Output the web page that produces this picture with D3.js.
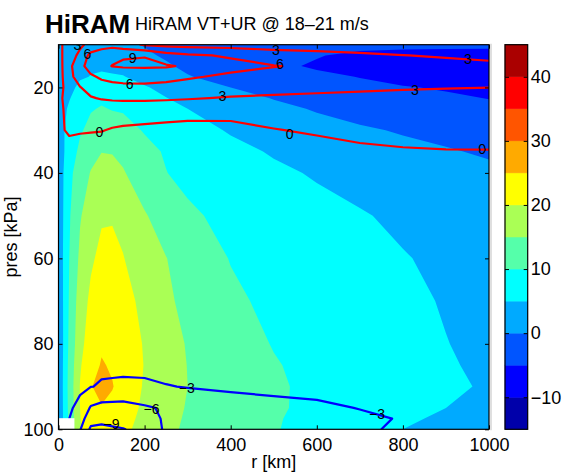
<!DOCTYPE html>
<html><head><meta charset="utf-8">
<script src="https://cdn.jsdelivr.net/npm/d3@7"></script>
<style>
body{margin:0;background:#fff;}
text{font-family:"Liberation Sans",Arial,Helvetica,sans-serif;}
</style>
</head><body>
<svg id="chart" width="568" height="476"></svg>
<script>
// ---------------- DATA ----------------
const radii = [0, 25, 50, 75, 100, 125, 150, 200, 250, 300, 400, 500, 600, 700, 800, 900, 1000]; // km
const pressures = [10, 12.5, 15, 17.5, 20, 22.5, 25, 30, 35, 40, 50, 60, 70, 80, 85, 90, 95, 97.5, 100]; // kPa

// filled field (VT+UR), one row per pressure level
const fillP10  = [1, 2.5, 3, 3, 2.5, 2, 1.2, -0.3, -1.5, -2.5, -3.5, -3.8, -3.7, -3.8, -3.8, -3.8, -3.8];
const fillP12  = [1.5, 3, 3.5, 3.5, 3, 2.5, 2, 0.8, -0.6, -1.8, -3, -4.2, -4.8, -5.8, -6.5, -6.8, -7];
const fillP15  = [2, 4, 4.5, 4.8, 4.8, 4.3, 3.8, 2.3, 0.6, -1, -3, -4.3, -5.4, -6.5, -7.2, -7.6, -7.8];
const fillP17  = [2.5, 4.3, 4.8, 5.05, 5.2, 5.3, 5.2, 3.5, 1.8, 0.3, -2, -3.3, -4.3, -5.1, -6, -6.5, -6.8];
const fillP20  = [2.8, 4.5, 5.4, 6.8, 7.5, 7.3, 6.8, 5.4, 3.8, 2.2, 0, -1.8, -3.2, -4.2, -4.8, -5.3, -5.6];
const fillP22  = [3, 4.8, 6.5, 8.5, 9.3, 9.2, 8.6, 6.8, 5.1, 3.6, 1.6, -0.2, -1.8, -3, -3.8, -4.5, -5.1];
const fillP25  = [3.2, 5.5, 7.8, 9.7, 10.3, 9.8, 9.6, 8, 6.4, 5, 2.8, 1.2, -0.4, -1.8, -2.8, -3.6, -4.2];
const fillP30  = [2.5, 7, 9.5, 11.2, 12, 12, 11.5, 9.7, 8.2, 6.8, 4.6, 3, 1.7, 0.6, -0.4, -1.4, -2.2];
const fillP35  = [2, 7.5, 11, 13.7, 14.9, 14.8, 13.8, 11.2, 9.6, 8.3, 6.2, 4.6, 3.2, 2.1, 1.2, 0.4, -0.6];
const fillP40  = [2, 8.5, 13, 15.2, 16.5, 16.3, 15.4, 12.2, 10.1, 8.8, 7, 5.8, 4.6, 3.6, 2.7, 1.8, 1];
const fillP50  = [1.5, 9.5, 14.6, 17.5, 19.5, 19.6, 18.6, 15.4, 12.8, 10.8, 8.7, 7.4, 6.3, 5.3, 4.3, 3.5, 2.8];
const fillP60  = [1.5, 10, 16, 19.3, 21.2, 21.3, 20.2, 17, 15.1, 13, 9.8, 8.3, 7.2, 6.2, 5.2, 4.3, 3.5];
const fillP70  = [1, 10.5, 17.5, 21, 23, 23.2, 22, 18.5, 16, 13.5, 10.9, 8.9, 7.7, 6.8, 5.9, 4.7, 3.8];
const fillP80  = [0.5, 11, 18.5, 22.5, 24.5, 24.3, 23, 19.6, 16.8, 14.7, 11.8, 9.8, 8.5, 7.5, 6.6, 5.1, 4];
const fillP85  = [0.5, 11.5, 19.5, 23.5, 25.3, 24.6, 23.5, 19.8, 17.2, 14.9, 12.3, 10.3, 8.8, 7.7, 6.8, 5.4, 4.2];
const fillP90  = [0.5, 11.8, 20.2, 24.7, 26.6, 25.2, 23.5, 19.5, 17, 15, 12.5, 10.6, 9, 7.8, 6.9, 5.8, 4.5];
const fillP95  = [0.5, 11.5, 20, 23.8, 24.7, 24, 22.6, 19, 16.6, 14.7, 12.3, 10.6, 8.9, 7.4, 6.2, 5, 3.8];
const fillP97  = [0.5, 11.2, 19.8, 23.2, 23.9, 23.3, 21.9, 18.6, 16.3, 14.5, 12.1, 10.4, 8.6, 6.9, 5.6, 4.4, 3.4];
const fillP100 = [0.5, 11, 19.5, 22.5, 23, 22.5, 21.2, 18.2, 16, 14.3, 12, 10.3, 8.4, 6.5, 5, 3.9, 3];

// contoured line field (radial flow), one row per pressure level
const lineP10  = [-1.1, 2, 2.7, 3.5, 4.5, 5, 4.2, 2.7, 2.2, 2, 1.8, 1.6, 1.5, 1.4, 1.3, 1.2, 1.1];
const lineP12  = [-1.2, 2.2, 3.4, 7, 8, 8.5, 8.8, 8.9, 7.2, 6.4, 5.7, 4.5, 4, 3.5, 3.05, 2.7, 2.4];
const lineP15  = [-1.3, 2.3, 5, 7.5, 8.5, 9.05, 9.3, 9.4, 9.3, 8.6, 6.8, 6.1, 5.6, 5, 4.4, 4, 3.6];
const lineP17  = [-1.4, 2.2, 4.3, 5.5, 6.5, 6.9, 7.1, 7.1, 6.8, 6.3, 5.5, 5.1, 4.8, 4.6, 4.4, 4.2, 4.1];
const lineP20  = [-1.5, 1.8, 2.9, 4, 4.7, 5.1, 5.3, 5.4, 5.2, 4.9, 4.3, 3.9, 3.6, 3.4, 3.2, 3.1, 3.02];
const lineP22  = [-1, 1.8, 2.4, 2.8, 3.2, 3.4, 3.5, 3.5, 3.4, 3.2, 2.8, 2.6, 2.5, 2.4, 2.3, 2.2, 2.1];
const lineP25  = [-1, 1.2, 1.5, 1.6, 1.6, 1.6, 1.6, 1.5, 1.4, 1.3, 1.2, 1.2, 1.2, 1.2, 1.2, 1.2, 1.2];
const lineP30  = [-0.4, 0.3, 0.2, 0.15, 0.1, -0.2, -0.4, -0.6, -0.8, -1.0, -0.9, -0.1, 0.3, 0.6, 0.8, 0.9, 1];
const lineP35  = [-1, -0.8, -1, -1.2, -1.3, -1.4, -1.5, -1.6, -1.6, -1.6, -1.4, -1.2, -0.9, -0.4, -0.2, -0.1, -0.1];
const lineP40  = [-1.2, -1.2, -1.4, -1.6, -1.7, -1.8, -1.8, -1.8, -1.8, -1.8, -1.7, -1.5, -1.3, -1.1, -0.9, -0.8, -0.7];
const lineP50  = [-1.3, -1.4, -1.6, -1.8, -1.9, -1.9, -1.9, -1.9, -1.9, -1.9, -1.8, -1.7, -1.6, -1.4, -1.3, -1.2, -1.1];
const lineP60  = [-1.3, -1.5, -1.7, -1.9, -2, -2, -2, -2, -2, -2, -1.9, -1.8, -1.7, -1.6, -1.5, -1.4, -1.3];
const lineP70  = [-1.4, -1.6, -1.9, -2.1, -2.2, -2.2, -2.2, -2.2, -2.1, -2.1, -2, -1.9, -1.8, -1.7, -1.6, -1.5, -1.4];
const lineP80  = [-1.5, -1.7, -2.1, -2.4, -2.5, -2.5, -2.5, -2.5, -2.4, -2.3, -2.2, -2.1, -2, -1.9, -1.8, -1.7, -1.6];
const lineP85  = [-1.5, -1.8, -2.2, -2.5, -2.7, -2.7, -2.7, -2.7, -2.6, -2.5, -2.4, -2.3, -2.2, -2.1, -2, -1.9, -1.8];
const lineP90  = [-1.8, -2.2, -2.6, -2.95, -3.15, -3.2, -3.25, -3.2, -3.05, -2.95, -2.75, -2.6, -2.5, -2.4, -2.2, -2, -1.9];
const lineP95  = [-2.2, -2.7, -3.6, -6.3, -7.0, -7.1, -7.2, -6.4, -5.6, -3.8, -3.7, -3.5, -3.3, -2.95, -2.6, -2.2, -2];
const lineP97  = [-2.35, -3.0, -4.7, -7.8, -8.3, -8.2, -8.1, -7.3, -5.55, -4.0, -3.95, -3.75, -3.55, -3.3, -2.9, -2.25, -2.05];
const lineP100 = [-2.5, -3.3, -5.8, -9.5, -9.6, -9.3, -9.1, -8.2, -5.5, -4.2, -4.2, -4, -3.8, -3.2, -2.8, -2.3, -2.1];

const fillLevels = [-15, -10, -5, 0, 5, 10, 15, 20, 25, 30, 35, 40];
const fillColors = ["#0000AA", "#0000FF", "#0055FF", "#00AAFF", "#00FFFF", "#55FFAA",
                    "#AAFF55", "#FFFF00", "#FFAA00", "#FF5500", "#FF0000", "#AA0000"];
const colorbarRange = [-15, 45];
const lineLevels = [-9, -6, -3, 0, 3, 6, 9];

const xTicks = [0, 200, 400, 600, 800, 1000];
const yTicks = [20, 40, 60, 80, 100];
const cbTicks = [-10, 0, 10, 20, 30, 40];

// contour labels: [r (km), p (kPa), text]
const contourLabels = [
  [44, 10.1, "3"], [67, 12.2, "6"], [172, 13.1, "9"], [165, 19.2, "6"], [381, 21.9, "3"],
  [95, 30.5, "0"], [505, 11.2, "3"], [514, 14.5, "6"], [537, 31, "0"], [828, 20.5, "3"],
  [951, 13.3, "3"], [984, 34.5, "0"],
  [298, 90.3, "\u22123"], [216, 95.2, "\u22126"], [123, 98.8, "\u22129"], [740, 96.4, "\u22123"]
];
// missing-data corner (white)
const maskR = [0, 37];
const maskP = [97.4, 100];

const titleBold = "HiRAM";
const titleText = "HiRAM VT+UR @ 18\u201321 m/s";
const xLabel = "r [km]";
const yLabel = "pres [kPa]";

// ---------------- DRAWING ----------------
const fillGrid = [fillP10, fillP12, fillP15, fillP17, fillP20, fillP22, fillP25, fillP30, fillP35, fillP40,
                  fillP50, fillP60, fillP70, fillP80, fillP85, fillP90, fillP95, fillP97, fillP100].flat();
const lineGrid = [lineP10, lineP12, lineP15, lineP17, lineP20, lineP22, lineP25, lineP30, lineP35, lineP40,
                  lineP50, lineP60, lineP70, lineP80, lineP85, lineP90, lineP95, lineP97, lineP100].flat();

const nx = radii.length, ny = pressures.length;
const M = {l: 58.5, r: 489, t: 44.7, b: 429.3};
const x = d3.scaleLinear([0, 1000], [M.l, M.r]);
const y = d3.scaleLinear([10, 100], [M.t, M.b]);
const ix = d3.scaleLinear(d3.range(nx), radii);
const iy = d3.scaleLinear(d3.range(ny), pressures);

const svg = d3.select("#chart");
svg.append("defs").append("clipPath").attr("id", "plotclip")
  .append("rect").attr("x", M.l).attr("y", M.t).attr("width", M.r - M.l).attr("height", M.b - M.t);

const clamp = (v, a, b) => Math.max(a, Math.min(b, v));
// raw marching-squares point -> fractional grid index (values sampled at integer indices)
function toIndex(pt, values, thr) {
  const [cx, cy] = pt;
  let xi, yi;
  if (Number.isInteger(cx)) {
    if (cx <= 0) xi = 0;
    else if (cx >= nx) xi = nx - 1;
    else {
      const row = clamp(Math.floor(cy), 0, ny - 1);
      const v0 = values[row * nx + cx - 1], v1 = values[row * nx + cx];
      xi = cx - 1 + (thr - v0) / (v1 - v0);
    }
  } else xi = cx - 0.5;
  if (Number.isInteger(cy)) {
    if (cy <= 0) yi = 0;
    else if (cy >= ny) yi = ny - 1;
    else {
      const col = clamp(Math.floor(cx), 0, nx - 1);
      const v0 = values[(cy - 1) * nx + col], v1 = values[cy * nx + col];
      yi = cy - 1 + (thr - v0) / (v1 - v0);
    }
  } else yi = cy - 0.5;
  return [clamp(xi, 0, nx - 1), clamp(yi, 0, ny - 1)];
}
const toPx = (q) => x(ix(q[0])).toFixed(2) + "," + y(iy(q[1])).toFixed(2);

const plot = svg.append("g").attr("clip-path", "url(#plotclip)");

// filled contours
const fillContours = d3.contours().size([nx, ny]).smooth(false).thresholds(fillLevels)(fillGrid);
plot.append("g").selectAll("path").data(fillContours).join("path")
  .attr("fill", d => fillColors[fillLevels.indexOf(d.value)])
  .attr("fill-rule", "evenodd")
  .attr("stroke", "none")
  .attr("d", g => g.coordinates.map(poly => poly.map(ring =>
      ring.map((p, i) => (i ? "L" : "M") + toPx(toIndex(p, fillGrid, g.value))).join("") + "Z").join("")).join(""));

// line contours
const lineContours = d3.contours().size([nx, ny]).smooth(false).thresholds(lineLevels)(lineGrid);
function onEdge(a, b) {
  return (a[0] === 0 && b[0] === 0) || (a[0] === nx - 1 && b[0] === nx - 1) ||
         (a[1] === 0 && b[1] === 0) || (a[1] === ny - 1 && b[1] === ny - 1);
}
function linePath(g) {
  let d = "";
  for (const poly of g.coordinates) for (const ring of poly) {
    const pts = ring.map(p => toIndex(p, lineGrid, g.value));
    const n = pts.length - 1;
    let start = 0;
    for (let i = 0; i < n; i++) if (onEdge(pts[i], pts[i + 1])) { start = i + 1; break; }
    let open = false;
    for (let k = 0; k < n; k++) {
      const i = (start + k) % n, j = (i + 1) % n;
      const a = pts[i], b = pts[j];
      if (onEdge(a, b)) { open = false; continue; }
      if (!open) { d += "M" + toPx(a); open = true; }
      d += "L" + toPx(b);
    }
  }
  return d;
}
plot.append("g").selectAll("path").data(lineContours.filter(g => g.coordinates.length)).join("path")
  .attr("fill", "none")
  .attr("stroke", d => d.value >= 0 ? "#FF0000" : "#0000FF")
  .attr("stroke-width", 2.2)
  .attr("stroke-linejoin", "round")
  .attr("stroke-linecap", "round")
  .attr("d", linePath);

// missing-data mask
plot.append("rect")
  .attr("x", x(maskR[0])).attr("y", y(maskP[0]))
  .attr("width", x(maskR[1]) - x(maskR[0])).attr("height", y(maskP[1]) - y(maskP[0]))
  .attr("fill", "#fff");

// contour labels
plot.append("g").selectAll("text").data(contourLabels).join("text")
  .attr("x", d => x(d[0])).attr("y", d => y(d[1]))
  .attr("text-anchor", "middle").attr("dy", "0.36em")
  .attr("font-size", 14).attr("fill", "#000")
  .text(d => d[2]);

// faint shadow line right of axes
svg.append("line").attr("x1", M.r + 2).attr("x2", M.r + 2).attr("y1", M.t - 1).attr("y2", M.b + 1)
  .attr("stroke", "#d4d4d4").attr("stroke-width", 1.5);

// axes
function styleAxis(g) {
  g.select(".domain").remove();
  g.selectAll("line").attr("stroke", "#000").attr("stroke-width", 1);
  g.selectAll("text").attr("font-size", 18).attr("fill", "#000")
    .attr("font-family", '"Liberation Sans",Arial,Helvetica,sans-serif');
}
svg.append("g").attr("transform", `translate(0,${M.b})`)
  .call(d3.axisBottom(x).tickValues(xTicks).tickSize(-4).tickPadding(9).tickFormat(d3.format("d"))).call(styleAxis);
svg.append("g").attr("transform", `translate(0,${M.t})`)
  .call(d3.axisTop(x).tickValues(xTicks).tickSize(-4).tickFormat("")).call(styleAxis);
svg.append("g").attr("transform", `translate(${M.l},0)`)
  .call(d3.axisLeft(y).tickValues(yTicks).tickSize(-4).tickPadding(5).tickFormat(d3.format("d"))).call(styleAxis);
svg.append("g").attr("transform", `translate(${M.r},0)`)
  .call(d3.axisRight(y).tickValues(yTicks).tickSize(-4).tickFormat("")).call(styleAxis);
svg.append("rect").attr("x", M.l).attr("y", M.t).attr("width", M.r - M.l).attr("height", M.b - M.t)
  .attr("fill", "none").attr("stroke", "#000").attr("stroke-width", 1.2);

// axis labels
svg.append("text").attr("x", (M.l + M.r) / 2).attr("y", 468).attr("text-anchor", "middle")
  .attr("font-size", 18).text(xLabel);
svg.append("text").attr("transform", `translate(16.5,${(M.t + M.b) / 2}) rotate(-90)`)
  .attr("text-anchor", "middle").attr("font-size", 18).text(yLabel);

// colorbar
const CB = {x0: 505, x1: 527.7};
const cy = d3.scaleLinear(colorbarRange, [M.b, M.t]);
const cbg = svg.append("g");
cbg.selectAll("rect").data(fillLevels).join("rect")
  .attr("x", CB.x0).attr("width", CB.x1 - CB.x0)
  .attr("y", d => cy(d + 5)).attr("height", d => cy(d) - cy(d + 5))
  .attr("fill", (d, i) => fillColors[i]).attr("stroke", (d, i) => fillColors[i]).attr("stroke-width", 0.5);
svg.append("g").attr("transform", `translate(${CB.x1},0)`)
  .call(d3.axisRight(cy).tickValues(cbTicks).tickSize(-4).tickPadding(3)
    .tickFormat(d => d < 0 ? "\u2212" + Math.abs(d) : d)).call(styleAxis);
svg.append("g").attr("transform", `translate(${CB.x0},0)`)
  .call(d3.axisLeft(cy).tickValues(cbTicks).tickSize(-4).tickFormat("")).call(styleAxis);
svg.append("rect").attr("x", CB.x0).attr("y", M.t).attr("width", CB.x1 - CB.x0).attr("height", M.b - M.t)
  .attr("fill", "none").attr("stroke", "#000").attr("stroke-width", 1.2);

// titles
svg.append("text").attr("x", 45).attr("y", 32.7).attr("font-size", 26).attr("font-weight", "bold")
  .text(titleBold);
svg.append("text").attr("x", 135).attr("y", 30).attr("font-size", 18).text(titleText);
</script>
</body></html>
